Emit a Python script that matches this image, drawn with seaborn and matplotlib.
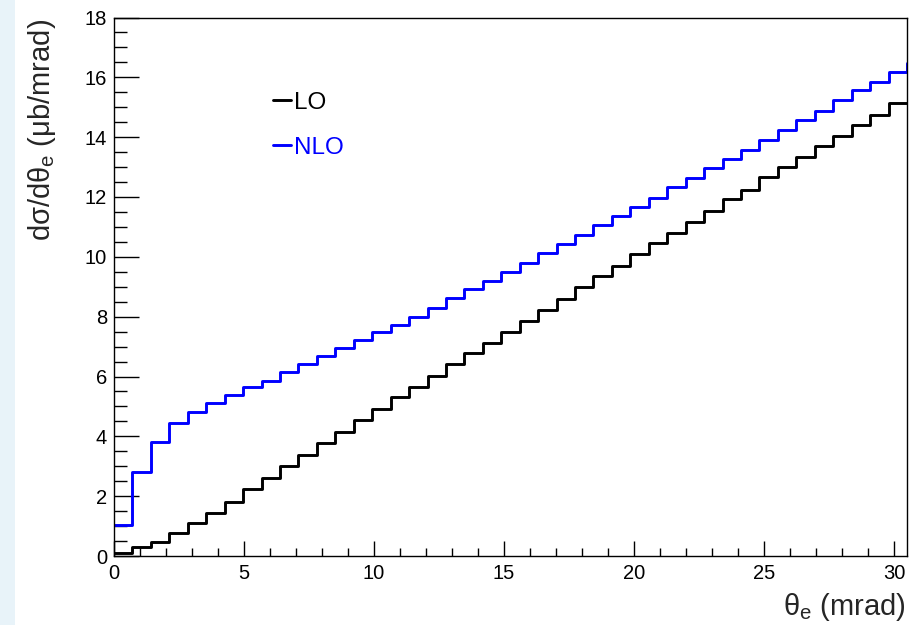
import numpy as np
import pandas as pd
import matplotlib
matplotlib.use("Agg")
import matplotlib.pyplot as plt
from matplotlib.lines import Line2D
from matplotlib.patches import Rectangle
from matplotlib.ticker import MultipleLocator
import seaborn as sns

# Differential cross section per bin, electron scattering angle (mrad)
lo_values = [0.11, 0.31, 0.48, 0.77, 1.11, 1.45, 1.82, 2.23, 2.60, 3.01,
             3.38, 3.77, 4.15, 4.53, 4.91, 5.30, 5.66, 6.02, 6.41, 6.80,
             7.13, 7.48, 7.86, 8.23, 8.58, 8.99, 9.36, 9.68, 10.10, 10.46,
             10.81, 11.16, 11.52, 11.94, 12.24, 12.67, 13.00, 13.33, 13.71, 14.05,
             14.41, 14.75, 15.14]
nlo_values = [1.04, 2.82, 3.82, 4.44, 4.83, 5.11, 5.38, 5.64, 5.86, 6.14,
              6.41, 6.67, 6.96, 7.22, 7.48, 7.73, 8.00, 8.30, 8.62, 8.92,
              9.20, 9.48, 9.79, 10.12, 10.42, 10.74, 11.05, 11.35, 11.68, 11.98,
              12.32, 12.63, 12.97, 13.28, 13.58, 13.91, 14.25, 14.56, 14.89, 15.23,
              15.56, 15.86, 16.18, 16.48]
series_labels = ["LO", "NLO"]
series_colors = ["black", "#0000ff"]

bin_width = 30.5 / 43
x_max = 30.5
y_max = 18

sns.set_theme(style="ticks")
plt.rcParams["font.family"] = ["Liberation Sans", "DejaVu Sans"]
plt.rcParams["mathtext.fontset"] = "custom"
plt.rcParams["mathtext.rm"] = "Liberation Sans"
plt.rcParams["mathtext.it"] = "Liberation Sans"

W, H = 912, 625
fig = plt.figure(figsize=(W / 100, H / 100), dpi=100)
fig.patch.set_facecolor("white")
fig.patches.append(Rectangle((0, 0), 15 / W, 1, transform=fig.transFigure,
                             facecolor="#e8f3f9", edgecolor="none", zorder=0))
ax = fig.add_axes([114 / W, 69 / H, (907 - 114) / W, (556 - 17.5) / H])

for vals, col in zip([lo_values, nlo_values], series_colors):
    n = len(vals)
    edges = np.arange(n + 1) * bin_width
    # step outline: each bin's level held from its low edge to its high edge
    df = pd.DataFrame({"theta": edges, "xsec": list(vals) + [vals[-1]]})
    sns.lineplot(data=df, x="theta", y="xsec", drawstyle="steps-post",
                 estimator=None, sort=False, color=col, linewidth=2.1, ax=ax)

ax.set_xlim(0, x_max)
ax.set_ylim(0, y_max)
ax.set_xlabel("")
ax.set_ylabel("")

ax.xaxis.set_major_locator(MultipleLocator(5))
ax.xaxis.set_minor_locator(MultipleLocator(1))
ax.yaxis.set_major_locator(MultipleLocator(2))
ax.yaxis.set_minor_locator(MultipleLocator(0.5))
ax.tick_params(axis="both", which="both", direction="in", colors="black",
               top=False, right=False, labelsize=14.5, width=1)
ax.tick_params(axis="x", which="major", length=11, pad=6)
ax.tick_params(axis="x", which="minor", length=6)
ax.tick_params(axis="y", which="major", length=18, pad=5)
ax.tick_params(axis="y", which="minor", length=9)

for s in ax.spines.values():
    s.set_color("black")
    s.set_linewidth(1.0)

# axis titles placed at the far ends of each axis
fig.text(905 / W, (H - 615) / H, r"$\theta_{e}$ (mrad)", fontsize=21,
         ha="right", va="baseline")
fig.text(50 / W, 1 - 19 / H, r"d$\sigma$/d$\theta_{e}$ ($\mu$b/mrad)",
         fontsize=21, rotation=90, rotation_mode="anchor",
         ha="right", va="baseline")

handles = [Line2D([], [], color=c, linewidth=2.1) for c in series_colors]
leg = ax.legend(handles, series_labels, loc="upper left",
                bbox_to_anchor=(0.2, 0.862), frameon=False, fontsize=17.5,
                handlelength=0.74, handletextpad=0.16, labelspacing=0.95,
                borderpad=0, borderaxespad=0)
for txt, c in zip(leg.get_texts(), series_colors):
    txt.set_color(c)

fig.savefig("out.png", dpi=100)
